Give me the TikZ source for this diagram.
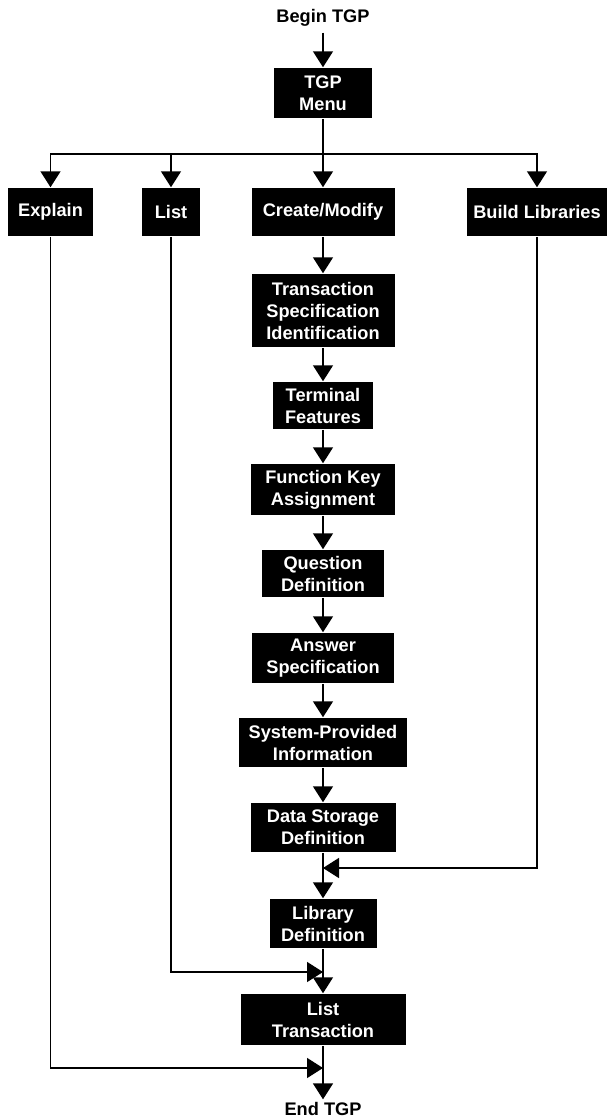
\documentclass[tikz,border=0pt]{standalone}
\usepackage{fontspec}
\setmainfont{Liberation Sans}
\usepackage{tikz}
\usetikzlibrary{arrows.meta}
\usetikzlibrary{calc}
\tikzset{>={Triangle[length=16pt,width=20pt]}}
\tikzset{tgpbox/.style={fill=black, text=white, align=center, inner sep=0pt,
	font=\bfseries\fontsize{18.2}{22}\selectfont}}
\tikzset{tgplabel/.style={align=center, inner sep=0pt,
	font=\bfseries\fontsize{18.2}{22}\selectfont}}
\newcommand{\drawBox}[5] {
	\node [tgpbox, minimum width=#4pt, minimum height=#5pt] (#1) at #2 {#3};
}

\begin{document}
\begin{tikzpicture}[x=1pt, y=-1pt, line width=1.5pt]
	\useasboundingbox (0,0) rectangle (606,1120);

	\node [tgplabel, outer sep=6pt] (begin) at (323,18) {Begin TGP};
	\drawBox{menu}{(323,93)}{TGP\\Menu}{98}{50};

	\drawBox{explain}{(50.5,212)}{Explain}{85}{48};
	\drawBox{list}{(171,212)}{List}{58}{48};
	\drawBox{create}{(323,212)}{Create/Modify}{143}{48};
	\drawBox{build}{(537,212)}{Build Libraries}{140}{48};

	\drawBox{trans}{(323,310.5)}{Transaction\\Specification\\Identification}{143}{73};
	\drawBox{term}{(323,405.5)}{Terminal\\Features}{100}{47};
	\drawBox{func}{(323,489.5)}{Function Key\\Assignment}{144}{51};
	\drawBox{quest}{(323,573.5)}{Question\\Definition}{122}{47};
	\drawBox{answer}{(323,658)}{Answer\\Specification}{142}{50};
	\drawBox{sysinfo}{(323,742.5)}{System-Provided\\Information}{168}{49};
	\drawBox{datast}{(323,827.5)}{Data Storage\\Definition}{145}{49};
	\drawBox{library}{(323,923.5)}{Library\\Definition}{107}{49};
	\drawBox{listtr}{(323,1019.5)}{List\\Transaction}{165}{51};

	\node [tgplabel, outer sep=3pt] (end) at (323,1109) {End TGP};

	\coordinate (split) at (323,154);
	\coordinate (join1) at (323,868);
	\coordinate (join2) at (323,972);
	\coordinate (join3) at (323,1068);

	\draw [->] (begin) -- (menu);
	\draw (menu) -- (split);
	\draw [->] (split) -| (explain);
	\draw [->] (split) -| (list);
	\draw [->] (split) -- (create);
	\draw [->] (split) -| (build);

	\draw [->] (create) -- (trans);
	\draw [->] (trans) -- (term);
	\draw [->] (term) -- (func);
	\draw [->] (func) -- (quest);
	\draw [->] (quest) -- (answer);
	\draw [->] (answer) -- (sysinfo);
	\draw [->] (sysinfo) -- (datast);

	\draw (datast) -- (join1);
	\draw [->] (build) |- (join1);
	\draw [->] (join1) -- (library);

	\draw (library) -- (join2);
	\draw [->] (list) |- (join2);
	\draw [->] (join2) -- (listtr);

	\draw (listtr) -- (join3);
	\draw [->] (explain) |- (join3);
	\draw [->] (join3) -- (end);

\end{tikzpicture}
\end{document}
